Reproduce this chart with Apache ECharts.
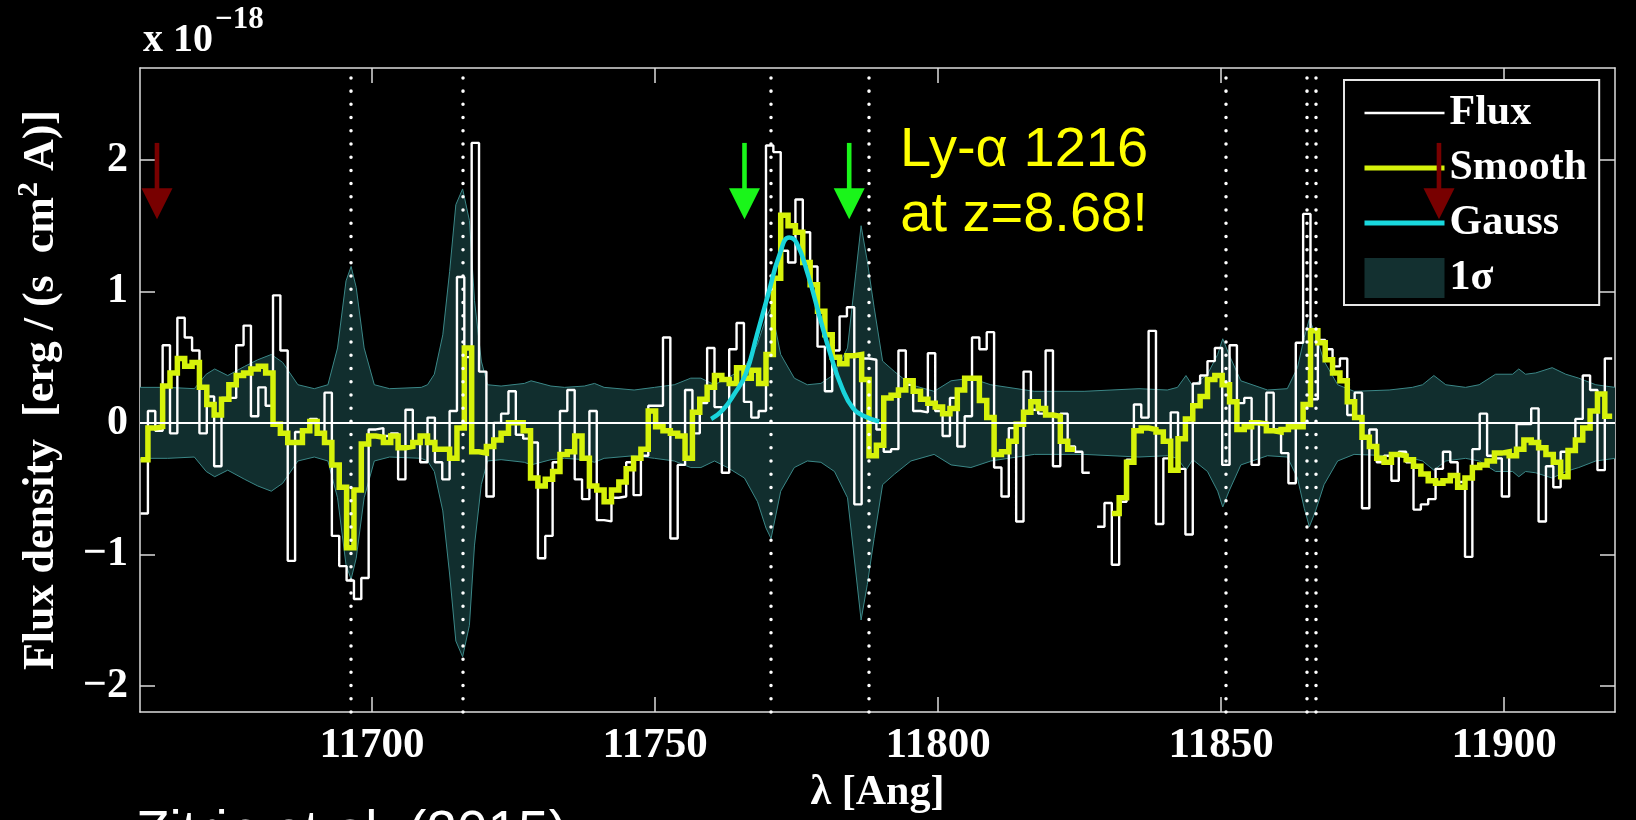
<!DOCTYPE html>
<html><head><meta charset="utf-8">
<script src="https://cdn.jsdelivr.net/npm/echarts@6/dist/echarts.min.js"></script>
<style>html,body{margin:0;padding:0;background:#000;}#c{width:1636px;height:820px;}</style>
</head><body><div id="c"></div>
<script>
// wavelength grid of the spectrum bins (Angstrom)
const lambdaStart = 11659.1;
const binWidth = 1.3;
// observed flux per bin (1e-18 erg/s/cm2/A); null = masked bin
const flux = [
 -0.69,0.09,-0.06,0.59,-0.08,0.80,0.65,0.55,-0.08,0.20,
 -0.33,0.19,0.19,0.59,0.74,0.05,0.27,0.13,0.97,0.55,
 -1.05,-0.07,-0.05,0.03,-0.08,0.23,-0.86,-1.09,-1.20,-1.34,
 -1.18,-0.05,-0.04,-0.10,-0.08,-0.43,0.10,-0.15,-0.30,0.04,
 -0.30,-0.43,0.09,1.11,0.50,2.13,0.39,-0.56,0.00,0.07,
 0.24,-0.09,-0.12,-0.15,-1.03,-0.86,-0.30,0.09,0.25,-0.43,
 -0.58,0.09,-0.74,-0.75,-0.57,-0.56,-0.30,-0.55,-0.25,0.13,
 0.13,0.65,-0.88,-0.32,0.25,-0.08,0.15,0.57,0.12,-0.38,
 0.56,0.76,0.16,0.04,0.09,2.11,2.06,1.31,1.22,1.70,
 1.45,1.19,0.58,0.24,0.55,0.81,0.88,-0.62,0.49,0.48,
 -0.05,-0.22,-0.20,0.55,0.29,0.09,0.08,0.53,0.09,-0.10,
 0.19,-0.18,0.05,0.65,0.56,0.69,-0.34,-0.56,-0.04,-0.75,
 0.39,0.10,0.07,0.55,-0.33,0.07,-0.18,-0.22,-0.38,null,
 -0.79,-0.61,-1.08,-0.60,-0.28,0.14,0.04,0.70,-0.77,-0.27,
 0.08,-0.35,-0.85,0.30,0.36,0.47,0.57,-0.32,0.59,0.15,
 0.19,-0.32,0.00,0.23,-0.05,-0.23,-0.46,0.61,1.59,0.18,
 0.63,0.56,0.43,0.49,0.06,0.23,-0.65,-0.05,-0.30,-0.25,
 -0.44,-0.22,-0.30,-0.66,-0.62,-0.58,-0.35,-0.22,-0.30,-0.45,
 -1.02,-0.20,0.07,-0.25,-0.27,-0.56,-0.24,-0.01,-0.01,0.11,
 -0.75,-0.33,-0.49,-0.22,-0.20,0.03,0.36,0.25,-0.36,0.49
];
// smoothed flux per bin
const smooth = [
 -0.28,-0.04,-0.03,0.28,0.38,0.49,0.43,0.46,0.27,0.14,
 0.06,0.18,0.29,0.36,0.38,0.41,0.43,0.38,-0.01,-0.08,
 -0.15,-0.15,-0.06,0.01,-0.08,-0.15,-0.32,-0.49,-0.95,-0.51,
 -0.16,-0.10,-0.11,-0.15,-0.10,-0.19,-0.18,-0.15,-0.10,-0.15,
 -0.20,-0.20,-0.27,-0.04,0.57,-0.22,-0.23,-0.18,-0.13,-0.08,
 0.00,0.00,-0.06,-0.42,-0.48,-0.43,-0.37,-0.24,-0.22,-0.10,
 -0.27,-0.48,-0.51,-0.60,-0.51,-0.45,-0.35,-0.27,-0.20,0.09,
 -0.03,-0.06,-0.08,-0.10,-0.27,0.08,0.18,0.27,0.36,0.33,
 0.30,0.42,0.34,0.40,0.30,0.52,1.10,1.58,1.50,1.45,
 1.22,1.05,0.85,0.67,0.50,0.45,0.51,0.52,0.33,-0.25,
 -0.17,0.19,0.21,0.25,0.32,0.24,0.18,0.15,0.12,0.07,
 0.11,0.25,0.34,0.34,0.17,0.04,-0.24,-0.22,-0.14,-0.01,
 0.08,0.16,0.11,0.06,0.05,-0.14,-0.20,null,null,null,
 null,null,-0.69,-0.57,-0.30,-0.06,-0.04,-0.05,-0.07,-0.14,
 -0.36,-0.12,0.03,0.13,0.20,0.33,0.36,0.29,0.16,-0.05,
 -0.03,0.00,-0.01,-0.06,-0.07,-0.05,-0.03,-0.03,0.14,0.70,
 0.61,0.48,0.38,0.32,0.16,0.04,-0.11,-0.18,-0.27,-0.30,
 -0.24,-0.25,-0.28,-0.33,-0.39,-0.44,-0.46,-0.44,-0.40,-0.49,
 -0.42,-0.34,-0.32,-0.29,-0.23,-0.22,-0.25,-0.20,-0.13,-0.15,
 -0.19,-0.24,-0.30,-0.41,-0.21,-0.13,-0.04,0.09,0.22,0.05
];
// 1-sigma noise envelope
const sigmaLambda = [11659.0,11663.9,11668.6,11670.7,11672.2,11674.5,11677.5,11679.8,11682.2,11684.2,11686.9,11689.8,11692.2,11693.9,11695.4,11696.3,11697.2,11698.6,11700.4,11703.1,11708.7,11709.8,11711.0,11712.5,11713.7,11714.8,11716.0,11717.2,11718.1,11719.3,11720.4,11722.8,11726.9,11728.1,11731.6,11734.0,11737.5,11739.3,11741.0,11746.3,11749.9,11753.4,11756.3,11758.1,11760.5,11762.8,11765.8,11768.1,11769.6,11770.5,11772.2,11774.6,11776.9,11779.3,11781.7,11784.0,11785.5,11786.4,11787.5,11788.7,11790.2,11792.3,11795.2,11799.3,11802.3,11805.8,11809.3,11817.0,11825.8,11835.5,11840.5,11842.3,11843.8,11845.0,11847.6,11849.4,11850.3,11851.4,11853.5,11858.2,11861.7,11863.5,11864.7,11865.6,11866.7,11868.2,11870.6,11873.5,11879.7,11883.8,11885.6,11887.6,11889.7,11893.2,11895.6,11898.5,11901.5,11902.6,11903.8,11905.6,11908.5,11910.9,11913.2,11916.2,11919.6];
const sigmaValue = [0.27,0.27,0.26,0.37,0.41,0.36,0.43,0.48,0.52,0.46,0.29,0.26,0.29,0.57,1.08,1.19,1.03,0.57,0.29,0.26,0.27,0.29,0.37,0.67,1.15,1.66,1.78,1.54,0.93,0.47,0.29,0.28,0.30,0.32,0.28,0.27,0.28,0.30,0.27,0.25,0.27,0.29,0.34,0.34,0.29,0.34,0.42,0.60,0.80,0.88,0.52,0.34,0.29,0.30,0.37,0.57,1.15,1.50,1.23,0.88,0.47,0.39,0.29,0.24,0.32,0.34,0.29,0.24,0.24,0.26,0.25,0.27,0.36,0.28,0.37,0.52,0.64,0.52,0.32,0.25,0.26,0.42,0.65,0.79,0.67,0.47,0.29,0.24,0.25,0.27,0.29,0.36,0.29,0.27,0.29,0.37,0.37,0.41,0.37,0.38,0.42,0.37,0.34,0.29,0.27];
// Gaussian fit
const gaussLambda = [11759.9,11762.0,11764.0,11766.0,11768.0,11770.0,11772.0,11773.7,11775.0,11777.0,11779.0,11781.0,11783.0,11785.0,11787.0,11789.6];
const gaussValue = [0.03,0.10,0.22,0.37,0.67,0.98,1.28,1.41,1.37,1.13,0.82,0.52,0.27,0.11,0.05,0.01];
// sky-line markers, arrows
const skyLines = [11696.3,11716.0,11770.5,11787.7,11850.9,11865.2,11866.7];
const greenArrows = [11765.8,11784.3];
const redArrows = [11662.0,11888.5];
const arrowTop = 2.13, arrowTip = 1.55;
const xTicks = [11700,11750,11800,11850,11900];
const yTicks = [-2,-1,0,1,2];

function stairs(vals){
  const out=[];
  vals.forEach((v,k)=>{
    const x0 = lambdaStart + k*binWidth, x1 = lambdaStart + (k+1)*binWidth;
    if(v===null){ out.push([x0,'-']); return; }
    out.push([x0,v],[x1,v]);
  });
  return out;
}
const zip = (a,b,s)=>a.map((x,i)=>[x,b[i]*(s||1)]);

const serif = 'Liberation Serif';
const frame = '#dcdcdc';
const bandFill = '#112e2e', bandEdge = '#3b8787';
const axisCommon = {
  type:'value', min:11659, max:11919.6,
  axisLine:{show:true,onZero:false,lineStyle:{color:frame,width:1.5}},
  axisTick:{show:true,inside:true,length:15,customValues:xTicks,lineStyle:{color:frame,width:1.5}},
  splitLine:{show:false}
};
const yCommon = {
  type:'value', min:-2.2, max:2.7,
  axisLine:{show:true,onZero:false,lineStyle:{color:frame,width:1.5}},
  axisTick:{show:true,inside:true,length:15,customValues:yTicks,lineStyle:{color:frame,width:1.5}},
  splitLine:{show:false}
};
const arrowData = redArrows.map(x=>[x,arrowTop,arrowTip,0]).concat(greenArrows.map(x=>[x,arrowTop,arrowTip,1]));

const chart = echarts.init(document.getElementById('c'), null, {renderer:'canvas'});
chart.setOption({
  backgroundColor:'#000',
  animation:false,
  grid:{left:140,right:21,top:68,bottom:108,containLabel:false,outerBoundsMode:'none'},
  xAxis:[
    Object.assign({}, axisCommon, {position:'bottom',
      axisLabel:{customValues:xTicks,color:'#fff',fontFamily:serif,fontWeight:'bold',fontSize:43,margin:12,
        formatter:v=>String(v)},
      name:'λ [Ang]', nameLocation:'middle', nameGap:57,
      nameTextStyle:{color:'#fff',fontFamily:serif,fontWeight:'bold',fontSize:42}}),
    Object.assign({}, axisCommon, {position:'top', axisLabel:{show:false}})
  ],
  yAxis:[
    Object.assign({}, yCommon, {position:'left',
      axisLabel:{customValues:yTicks,color:'#fff',fontFamily:serif,fontWeight:'bold',fontSize:42,margin:12,
        formatter:v=>String(v).replace('-','\u2212')},
      name:'Flux density  [erg / (s  cm{sup|2} A)]', nameLocation:'middle', nameGap:70,
      nameTextStyle:{color:'#fff',fontFamily:serif,fontWeight:'bold',fontSize:44,lineHeight:56,
        rich:{sup:{fontSize:30,verticalAlign:'top',color:'#fff',fontFamily:serif,fontWeight:'bold'}}}}),
    Object.assign({}, yCommon, {position:'right', axisLabel:{show:false}})
  ],
  legend:{
    data:[
      {name:'Flux',itemStyle:{opacity:0},lineStyle:{width:2.5,color:'#fff'}},
      {name:'Smooth',itemStyle:{opacity:0},lineStyle:{width:5,color:'#d6f20a'}},
      {name:'Gauss',itemStyle:{opacity:0},lineStyle:{width:5,color:'#19d8de'}},
      {name:'1σ',icon:'rect',itemStyle:{color:'#133030',opacity:1}}
    ],
    orient:'vertical', left:1344, top:80, padding:[12,12,6,18],
    itemWidth:80, itemHeight:40, itemGap:13,
    backgroundColor:'#000', borderColor:'#e6e6e6', borderWidth:2, borderRadius:0,
    textStyle:{color:'#fff',fontFamily:serif,fontWeight:'bold',fontSize:42,padding:[0,0,0,0]},
    selectedMode:false
  },
  graphic:[
    {type:'text',left:143,top:21,style:{text:'x 10',fill:'#fff',font:'bold 40px "Liberation Serif"'}},
    {type:'text',left:215,top:4,style:{text:'\u221218',fill:'#fff',font:'bold 31px "Liberation Serif"'}},
    {type:'text',x:1024,y:151,style:{text:'Ly-α 1216',fill:'#ffff00',font:'56px "Liberation Sans"',align:'center',verticalAlign:'middle'}},
    {type:'text',x:1024,y:216,style:{text:'at z=8.68!',fill:'#ffff00',font:'56px "Liberation Sans"',align:'center',verticalAlign:'middle'}},
    {type:'text',x:136,y:834,style:{text:'Zitrin et al. (2015)',fill:'#fff',font:'55px "Liberation Sans"',align:'left',verticalAlign:'middle'}}
  ],
  series:[
    {name:'1σ',type:'line',data:zip(sigmaLambda,sigmaValue),symbol:'none',z:1,silent:true,
      lineStyle:{color:bandEdge,width:1},itemStyle:{color:bandEdge},areaStyle:{color:bandFill,opacity:1,origin:0}},
    {name:'1σ',type:'line',data:zip(sigmaLambda,sigmaValue,-1),symbol:'none',z:1,silent:true,
      lineStyle:{color:bandEdge,width:1},itemStyle:{color:bandEdge},areaStyle:{color:bandFill,opacity:1,origin:0}},
    {name:'Flux',type:'line',data:stairs(flux),symbol:'none',z:3,connectNulls:false,silent:true,
      lineStyle:{color:'#ffffff',width:2.4},itemStyle:{color:'#ffffff'},
      markLine:{silent:true,symbol:['none','none'],label:{show:false},
        lineStyle:{color:'#ffffff',width:2,type:'solid'},data:[{yAxis:0}]}},
    {name:'Smooth',type:'line',data:stairs(smooth),symbol:'none',z:4,connectNulls:false,silent:true,
      lineStyle:{color:'#d6f20a',width:5.5,join:'miter'},itemStyle:{color:'#d6f20a'}},
    {name:'Gauss',type:'line',data:zip(gaussLambda,gaussValue),smooth:0.5,symbol:'none',z:5,silent:true,
      lineStyle:{color:'#19d3da',width:4.5},itemStyle:{color:'#19d3da'},
      markLine:{silent:true,symbol:['none','none'],label:{show:false},
        lineStyle:{color:'#ffffff',width:3.5,type:[0.01,13.2],cap:'round'},
        data:skyLines.map(x=>({xAxis:x}))}},
    {name:'arrows',type:'custom',z:10,silent:true,clip:false,data:arrowData,encode:{x:0,y:1},
      renderItem:function(params,api){
        const top = api.coord([api.value(0),api.value(1)]);
        const tip = api.coord([api.value(0),api.value(2)]);
        const color = api.value(3) ? '#1af51a' : '#780000';
        const headLen = 31, half = 15.5, shaft = 4.6;
        return {type:'group',children:[
          {type:'rect',shape:{x:top[0]-shaft/2,y:top[1],width:shaft,height:tip[1]-top[1]-headLen+1},style:{fill:color}},
          {type:'polygon',shape:{points:[[tip[0]-half,tip[1]-headLen],[tip[0]+half,tip[1]-headLen],[tip[0],tip[1]]]},style:{fill:color}}
        ]};
      }}
  ]
});
</script></body></html>
